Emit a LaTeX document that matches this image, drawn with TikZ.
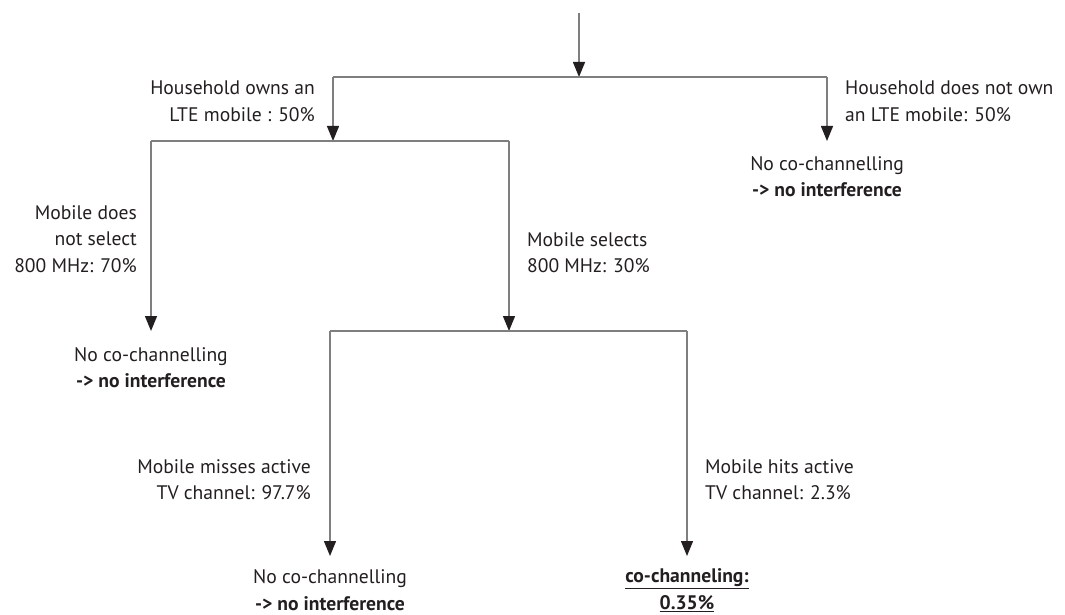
\documentclass[tikz,border=0pt]{standalone}
\usepackage{fontspec}
\setmainfont{PT Sans}
\usetikzlibrary{arrows.meta}
\definecolor{ln}{HTML}{7F7F7F}
\definecolor{tx}{HTML}{231F20}
\begin{document}
\begin{tikzpicture}[x=1pt,y=-1pt,
  wire/.style={draw=ln, line width=1.3pt},
  arr/.style={wire, -{Triangle[width=12pt,length=15pt,color=tx,fill=tx]}},
  lbl/.style={text=tx, font=\fontsize{19.6}{26.5}\selectfont, inner sep=0pt, align=#1}]
\useasboundingbox (0,0) rectangle (1065,615);
% junction coordinates
\coordinate (start) at (579,13);
\coordinate (j0) at (579,77);
\coordinate (j0L) at (333,77);
\coordinate (j0R) at (827,77);
\coordinate (j1) at (333,141);
\coordinate (e1) at (827,141);
\coordinate (j1L) at (151,141);
\coordinate (j1R) at (509,141);
\coordinate (e2) at (151,331);
\coordinate (j2) at (509,331);
\coordinate (j2L) at (330,331);
\coordinate (j2R) at (687,331);
\coordinate (e3) at (330,556);
\coordinate (e4) at (687,556);
% connectors
\draw[arr] (start) -- (j0);
\draw[wire] (j0L) -- (j0R);
\draw[arr] (j0L) -- (j1);
\draw[arr] (j0R) -- (e1);
\draw[wire] (j1L) -- (j1R);
\draw[arr] (j1L) -- (e2);
\draw[arr] (j1R) -- (j2);
\draw[wire] (j2L) -- (j2R);
\draw[arr] (j2L) -- (e3);
\draw[arr] (j2R) -- (e4);
% labels
\node[lbl=right, anchor=east] (owns) at (315,101.5) {Household owns an\\LTE mobile : 50\%};
\node[lbl=left, anchor=west] (notown) at (845,101.5) {Household does not own\\an LTE mobile: 50\%};
\node[lbl=center] (res1) at (827,176.5) {No co-channelling\\\textbf{-> no interference}};
\node[lbl=right, anchor=east] (nosel) at (137,239) {Mobile does\\not select\\800 MHz: 70\%};
\node[lbl=center] (res2) at (151,367.5) {No co-channelling\\\textbf{-> no interference}};
\node[lbl=left, anchor=west] (sel) at (527,252.5) {Mobile selects\\800 MHz: 30\%};
\node[lbl=right, anchor=east] (miss) at (311,479.5) {Mobile misses active\\TV channel: 97.7\%};
\node[lbl=left, anchor=west] (hit) at (705,479.5) {Mobile hits active\\TV channel: 2.3\%};
\node[lbl=center] (res3) at (330,590) {No co-channelling\\\textbf{-> no interference}};
\node[lbl=center] (res4) at (687,590) {\textbf{\underline{co-channeling:}}\\\textbf{\underline{0.35\%}}};
\end{tikzpicture}
\end{document}
